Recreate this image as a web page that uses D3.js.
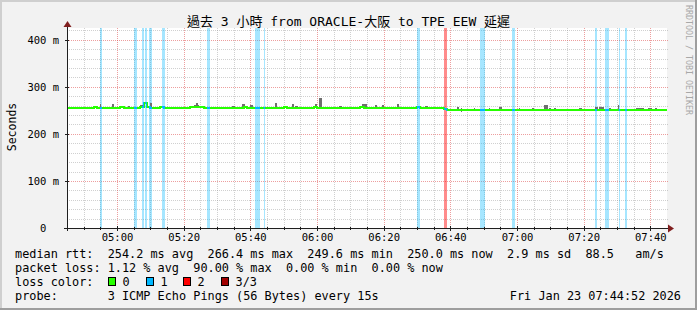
<!DOCTYPE html>
<html>
<head>
<meta charset="utf-8">
<script src="https://cdn.jsdelivr.net/npm/d3@7"></script>
<style>
  body { margin: 0; background: #f2f2f2; }
  svg { display: block; }
  text { font-family: "DejaVu Sans Mono", "Noto Sans CJK TC", monospace; white-space: pre; }
</style>
</head>
<body>
<svg id="chart" width="697" height="310"></svg>
<script>
const title = "過去 3 小時 from ORACLE-大阪 to TPE EEW 延遲";
const day = "2026-01-23";
const rangeStart = "04:45:00";
const rangeEnd = "07:45:00";

// median rtt (ms), one value per minute from 04:45
const medianStart = "04:45:00";
const medianRtt = [
  256,256,256,255.5,256,256,256,256,256.5,256,
  256,255.5,256,256,256,256,256.5,256,256,255.5,
  256,256,257,266,257,256,256,256,256.5,256,
  256,256,255.5,256,256,256,256,256.5,257,257,
  256.5,256,256,256,255.5,255.5,256,256,256,256,
  256,256,256,256.5,256,256,255.5,256,256,256,
  256,256,256,256,256,256.5,256,256,256,256,
  256,256,256,256,256.5,256,256,256,256,256,
  256,256,256,255.5,256,256,256,256,256.5,256,
  256,256,256,256,256,256,256,256,256,256,
  256,256,256,256,256,256.5,256,256,256,256,
  256,256,255.5,253,250.5,250.5,250.5,250.5,250.5,250.5,
  250.5,250.5,250,250.5,250.5,250.5,250.5,250.5,251,250.5,
  250.5,250.5,250.5,250.5,250,250.5,250.5,250.5,250.5,250.5,
  250.5,250.5,250.5,251,250.5,250.5,250.5,250.5,250.5,250.5,
  250.5,250.5,250,250.5,250.5,250.5,250.5,250.5,250.5,251,
  250.5,250.5,250.5,250.5,250.5,250.5,250.5,250,250.5,250.5,
  250.5,250.5,250.5,250.5,250.5,250.5,250.5,250,250,250
];

// loss periods: [start, seconds, lost pings]
const lossBands = [
  ["04:54:54", 36, 1], ["05:05:06", 54, 1], ["05:07:30", 36, 1],
  ["05:08:30", 27, 1], ["05:09:36", 54, 1], ["05:13:30", 54, 1],
  ["05:27:00", 54, 1], ["05:41:24", 90, 1], ["05:44:00", 27, 1],
  ["06:30:00", 54, 1], ["06:38:12", 54, 2], ["06:48:54", 90, 1],
  ["06:58:30", 54, 1], ["07:23:24", 36, 1], ["07:26:24", 72, 1],
  ["07:30:30", 27, 1], ["07:32:24", 36, 1]
];

// smoke (ping spread): [start, seconds, low ms, high ms]
const smoke = [
  ["04:52:42", 72, 255, 259], ["04:54:54", 18, 254, 263], ["04:58:30", 36, 255, 263],
  ["05:03:18", 36, 255, 259], ["05:06:54", 72, 255, 261], ["05:08:42", 18, 255, 263],
  ["05:09:54", 36, 254, 265], ["05:12:36", 36, 255, 259], ["05:23:00", 102, 255, 262],
  ["05:23:36", 48, 255, 266], ["05:25:12", 72, 255, 259], ["05:34:30", 54, 255, 259],
  ["05:37:30", 54, 255, 263], ["05:39:54", 54, 255, 261], ["05:47:18", 36, 254, 265],
  ["05:52:30", 36, 255, 263], ["05:53:24", 54, 254, 260], ["05:59:24", 36, 255, 263],
  ["06:00:42", 48, 255, 277], ["06:06:36", 54, 255, 259], ["06:13:30", 90, 255, 263],
  ["06:17:24", 36, 255, 261], ["06:19:30", 36, 255, 261], ["06:24:00", 36, 255, 264],
  ["06:32:24", 54, 255, 259], ["06:42:00", 36, 249, 257], ["06:43:12", 18, 247, 254],
  ["06:47:06", 18, 249, 255], ["06:51:36", 18, 249, 255], ["06:54:36", 54, 249, 258],
  ["07:00:36", 18, 249, 256], ["07:04:30", 36, 249, 255], ["07:08:06", 72, 248, 261],
  ["07:09:36", 36, 248, 256], ["07:11:06", 36, 249, 256], ["07:18:36", 54, 249, 256],
  ["07:23:24", 54, 249, 258], ["07:24:36", 90, 249, 257], ["07:27:30", 36, 249, 256],
  ["07:30:18", 18, 249, 261], ["07:35:42", 144, 249, 256], ["07:39:18", 72, 249, 255],
  ["07:41:24", 36, 248, 254]
];

const yTicks = [0, 100, 200, 300, 400];
const xTickLabels = ["05:00", "05:20", "05:40", "06:00", "06:20", "06:40", "07:00", "07:20", "07:40"];
const lossColors = ["#26ff00", "#00b8ff", "#ff0000", "#a00000"];
const lossNames = ["0", "1", "2", "3/3"];
const legendRows = [
  "median rtt:  254.2 ms avg  266.4 ms max  249.6 ms min  250.0 ms now  2.9 ms sd  88.5   am/s",
  "packet loss: 1.12 % avg  90.00 % max  0.00 % min  0.00 % now",
  "loss color:",
  "probe:       3 ICMP Echo Pings (56 Bytes) every 15s"
];
const stamp = "Fri Jan 23 07:44:52 2026";

const parse = d3.timeParse("%Y-%m-%d %H:%M:%S");
const t = s => parse(day + " " + (s.length === 5 ? s + ":00" : s));

const svg = d3.select("#chart");
const W = 697, H = 310;
const pLeft = 67, pRight = 667, pTop = 28, pBottom = 228;

const x = d3.scaleTime().domain([t(rangeStart), t(rangeEnd)]).range([pLeft, pRight]);
const y = d3.scaleLinear().domain([0, 425]).range([pBottom, pTop]);

// background + frame shading
svg.append("rect").attr("width", W).attr("height", H).attr("fill", "#f2f2f2");
svg.append("rect").attr("x", 0).attr("y", 0).attr("width", W).attr("height", 2).attr("fill", "#cfcfcf");
svg.append("rect").attr("x", 0).attr("y", 0).attr("width", 2).attr("height", H).attr("fill", "#cfcfcf");
svg.append("rect").attr("x", 0).attr("y", H - 2).attr("width", W).attr("height", 2).attr("fill", "#9e9e9e");
svg.append("rect").attr("x", W - 2).attr("y", 0).attr("width", 2).attr("height", H).attr("fill", "#9e9e9e");

// canvas
svg.append("rect").attr("x", pLeft).attr("y", pTop).attr("width", pRight - pLeft).attr("height", pBottom - pTop).attr("fill", "#fff");

// grid
const grid = svg.append("g").attr("shape-rendering", "crispEdges").attr("stroke-dasharray", "1,1");
const minorT = d3.timeMinute.every(5).range(x.domain()[0], x.domain()[1]);
minorT.forEach(d => {
  if (d.getMinutes() % 20 === 0) return;
  const px = Math.round(x(d)) + 0.5;
  grid.append("line").attr("x1", px).attr("x2", px).attr("y1", pTop).attr("y2", pBottom)
    .attr("stroke", "rgba(143,143,143,0.42)");
});
d3.range(20, 425, 20).forEach(v => {
  if (v % 100 === 0) return;
  const py = Math.round(y(v)) + 0.5;
  grid.append("line").attr("x1", pLeft).attr("x2", pRight + 1).attr("y1", py).attr("y2", py)
    .attr("stroke", "rgba(143,143,143,0.42)");
});
xTickLabels.forEach(s => {
  const px = Math.round(x(t(s))) + 0.5;
  grid.append("line").attr("x1", px).attr("x2", px).attr("y1", pTop).attr("y2", pBottom)
    .attr("stroke", "rgba(222,79,79,0.55)");
});
yTicks.filter(v => v > 0).forEach(v => {
  const py = Math.round(y(v)) + 0.5;
  grid.append("line").attr("x1", pLeft).attr("x2", pRight + 1).attr("y1", py).attr("y2", py)
    .attr("stroke", "rgba(222,79,79,0.55)");
});

// loss bands
const addSec = (d, s) => new Date(d.getTime() + s * 1000);
svg.append("g").attr("shape-rendering", "crispEdges")
  .selectAll("rect").data(lossBands).join("rect")
  .attr("x", d => x(t(d[0])))
  .attr("width", d => x(addSec(t(d[0]), d[1])) - x(t(d[0])))
  .attr("y", pTop).attr("height", pBottom - pTop)
  .attr("fill", d => lossColors[d[2]])
  .attr("fill-opacity", d => d[2] === 1 ? 0.35 : 0.45);

// smoke
svg.append("g").attr("shape-rendering", "crispEdges")
  .selectAll("rect").data(smoke).join("rect")
  .attr("x", d => x(t(d[0])))
  .attr("width", d => Math.max(1, x(addSec(t(d[0]), d[1])) - x(t(d[0]))))
  .attr("y", d => y(d[3]))
  .attr("height", d => y(d[2]) - y(d[3]))
  .attr("fill", "#6f6f6f");

// median line
const t0 = t(medianStart);
const medianPts = medianRtt.map((v, i) => [addSec(t0, i * 60), v]);
medianPts.push([t(rangeEnd), medianRtt[medianRtt.length - 1]]);
const line = d3.line().x(d => x(d[0])).y(d => y(d[1])).curve(d3.curveStepAfter);

svg.append("path").attr("d", line(medianPts)).attr("fill", "none")
  .attr("stroke", lossColors[0]).attr("stroke-width", 2).attr("shape-rendering", "crispEdges");

const defs = svg.append("defs");
lossBands.forEach((b, i) => {
  defs.append("clipPath").attr("id", "band" + i).append("rect")
    .attr("x", x(t(b[0]))).attr("width", x(addSec(t(b[0]), b[1])) - x(t(b[0])))
    .attr("y", pTop).attr("height", pBottom - pTop);
  svg.append("path").attr("d", line(medianPts)).attr("fill", "none")
    .attr("clip-path", "url(#band" + i + ")")
    .attr("stroke", b[2] === 2 ? lossColors[1] : lossColors[b[2]])
    .attr("stroke-width", 2).attr("shape-rendering", "crispEdges");
});

// axes
const axisG = svg.append("g").attr("shape-rendering", "crispEdges");
axisG.append("line").attr("x1", pLeft - 3).attr("x2", pRight + 3).attr("y1", pBottom + 0.5).attr("y2", pBottom + 0.5).attr("stroke", "#1f1f1f");
axisG.append("line").attr("x1", pLeft + 0.5).attr("x2", pLeft + 0.5).attr("y1", pBottom + 3).attr("y2", pTop - 3).attr("stroke", "#1f1f1f");
minorT.forEach(d => {
  const px = Math.round(x(d)) + 0.5;
  const major = d.getMinutes() % 20 === 0;
  axisG.append("line").attr("x1", px).attr("x2", px).attr("y1", pBottom - (major ? 2 : 1)).attr("y2", pBottom + (major ? 3 : 2)).attr("stroke", "#1f1f1f");
});
yTicks.forEach(v => {
  const py = Math.round(y(v)) + 0.5;
  axisG.append("line").attr("x1", pLeft - 2).attr("x2", pLeft + 2).attr("y1", py).attr("y2", py).attr("stroke", "#1f1f1f");
});
svg.append("path").attr("d", `M${pRight + 1},${pBottom - 3.5}L${pRight + 7},${pBottom + 0.5}L${pRight + 1},${pBottom + 4.5}Z`).attr("fill", "#801f1f");
svg.append("path").attr("d", `M${pLeft - 3.5},${pTop - 1}L${pLeft + 0.5},${pTop - 7}L${pLeft + 4.5},${pTop - 1}Z`).attr("fill", "#801f1f");

const xAxis = d3.axisBottom(x).tickValues(xTickLabels.map(t)).tickFormat(d3.timeFormat("%H:%M")).tickSize(0);
const gx = svg.append("g").attr("transform", `translate(0,${pBottom})`).call(xAxis);
gx.select(".domain").remove();
gx.selectAll("text").attr("y", 13).attr("dy", 0).attr("fill", "#000")
  .style("font-family", '"DejaVu Sans Mono", monospace').style("font-size", "10.5px");

const yAxis = d3.axisLeft(y).tickValues(yTicks).tickFormat(v => v === 0 ? "0  " : v + " m").tickSize(0);
const gy = svg.append("g").attr("transform", "translate(59,0)").call(yAxis);
gy.select(".domain").remove();
gy.selectAll("text").attr("x", 0).attr("dy", "0.36em").attr("fill", "#000")
  .style("font-family", '"DejaVu Sans Mono", monospace').style("font-size", "10.5px");

// titles
svg.append("text").attr("x", 348.5).attr("y", 25.5).attr("text-anchor", "middle")
  .style("font-size", "13px").text(title);
svg.append("text").attr("transform", "translate(15.5,127) rotate(-90)").attr("text-anchor", "middle")
  .style("font-size", "11.5px").text("Seconds");
svg.append("text").attr("transform", "translate(685.5,5) rotate(90)")
  .attr("fill", "#a8a8a8").style("font-size", "8.3px").text("RRDTOOL / TOBI OETIKER");

// legend
const legendY = [258, 272, 286, 300];
legendRows.forEach((r, i) => {
  svg.append("text").attr("x", 15).attr("y", legendY[i]).style("font-size", "11.85px").text(r);
});
svg.append("text").attr("x", 681).attr("y", legendY[3]).attr("text-anchor", "end")
  .style("font-size", "11.85px").text(stamp);
lossColors.forEach((c, i) => {
  const bx = 108 + Math.round(i * 37.6);
  svg.append("rect").attr("x", bx + 0.5).attr("y", 277.5).attr("width", 7).attr("height", 8)
    .attr("fill", c).attr("stroke", "#000").attr("shape-rendering", "crispEdges");
  svg.append("text").attr("x", bx + 14.5).attr("y", legendY[2]).style("font-size", "11.85px").text(lossNames[i]);
});
</script>
</body>
</html>
